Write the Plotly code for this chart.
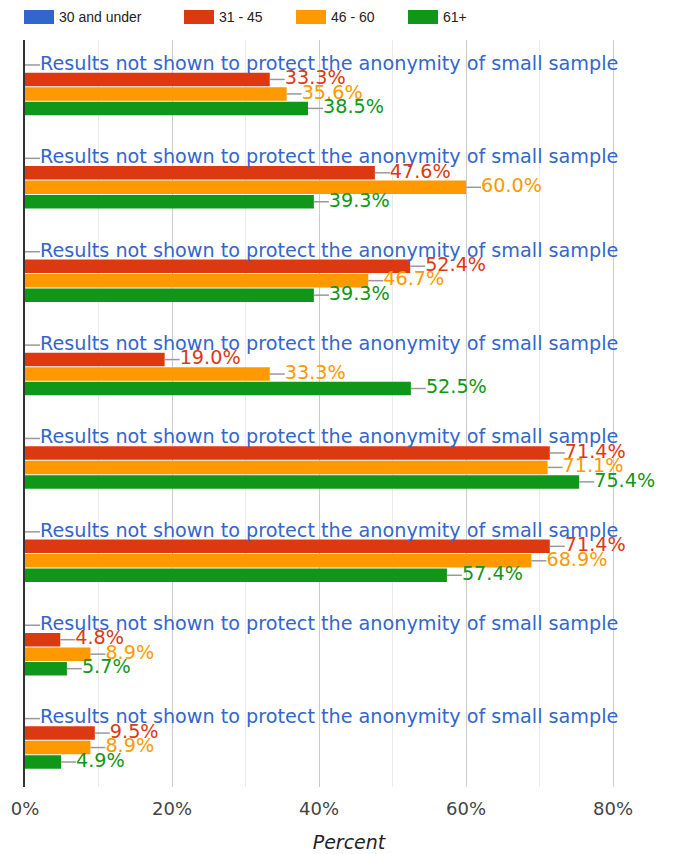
import plotly.graph_objects as go

categories = ["Item 1", "Item 2", "Item 3", "Item 4", "Item 5", "Item 6", "Item 7", "Item 8"]
series_names = ["30 and under", "31 - 45", "46 - 60", "61+"]
colors = ["#3366CC", "#DC3912", "#FF9900", "#109618"]
v_30_under = [0, 0, 0, 0, 0, 0, 0, 0]
v_31_45 = [0.333, 0.476, 0.524, 0.190, 0.714, 0.714, 0.048, 0.095]
v_46_60 = [0.356, 0.600, 0.467, 0.333, 0.711, 0.689, 0.089, 0.089]
v_61_plus = [0.385, 0.393, 0.393, 0.525, 0.754, 0.574, 0.057, 0.049]
suppressed_text = "Results not shown to protect the anonymity of small sample"
tick_vals = [0, 0.2, 0.4, 0.6, 0.8]
tick_text = ["0%", "20%", "40%", "60%", "80%"]

series_values = [v_30_under, v_31_45, v_46_60, v_61_plus]

W, H = 683, 854
ML, MR, MT, MB = 25, 10, 40, 67
PW, PH = W - ML - MR, H - MT - MB
XMAX = 0.8816
px_per_unit = PW / XMAX
LEADER = 15 / px_per_unit          # leader line length in data units

STEP = 0.155                       # slot per bar within a category
BW = 0.1445                        # bar thickness
GROUP_START = -2 * STEP

cat_pos = list(range(len(categories)))

fig = go.Figure()
for k, (name, vals, col) in enumerate(zip(series_names, series_values, colors)):
    off = GROUP_START + k * STEP + (STEP - BW) / 2
    centers = [p + off + BW / 2 for p in cat_pos]
    fig.add_trace(go.Bar(
        name=name, y=cat_pos, x=vals, orientation="h",
        offset=off, width=BW,
        marker=dict(color=col, line=dict(width=0)),
        hoverinfo="x+name", showlegend=False,
    ))
    # leader lines
    lx, ly = [], []
    for v, c in zip(vals, centers):
        lx += [v, v + LEADER, None]
        ly += [c, c, None]
    fig.add_trace(go.Scatter(
        x=lx, y=ly, mode="lines", line=dict(color="#999999", width=1.5),
        hoverinfo="skip", showlegend=False, cliponaxis=False,
    ))
    if name == "30 and under":
        texts = [suppressed_text for _ in vals]
    else:
        texts = [f"{v*100:.1f}%" for v in vals]
    fig.add_trace(go.Scatter(
        x=[v + LEADER for v in vals], y=centers, mode="text", text=texts,
        textposition="middle right", cliponaxis=False,
        textfont=dict(family="DejaVu Sans", size=19.2, color=col),
        hoverinfo="skip", showlegend=False,
    ))

# custom legend (wide rectangles like the reference)
legend_x = [24, 184, 296, 408]
for lx0, name, col in zip(legend_x, series_names, colors):
    fig.add_shape(type="rect", xref="paper", yref="paper",
                  x0=(lx0 - ML) / PW, x1=(lx0 + 30 - ML) / PW,
                  y0=1 + (MT - 24) / PH, y1=1 + (MT - 10) / PH,
                  fillcolor=col, line=dict(width=0), layer="above")
    fig.add_annotation(xref="paper", yref="paper",
                       x=(lx0 + 35 - ML) / PW, y=1 + (MT - 17) / PH,
                       text=name, showarrow=False, xanchor="left", yanchor="middle",
                       xshift=-2,
                       font=dict(family="Liberation Sans, Arial", size=14, color="#222222"))

fig.update_layout(
    width=W, height=H,
    barmode="overlay",
    plot_bgcolor="white", paper_bgcolor="white",
    margin=dict(l=ML, r=MR, t=MT, b=MB, autoexpand=False),
    showlegend=False,
    xaxis=dict(range=[0, XMAX], tickvals=tick_vals, ticktext=tick_text,
               showgrid=True, gridcolor="#cccccc", gridwidth=1,
               minor=dict(dtick=0.1, tick0=0, showgrid=True, gridcolor="#ebebeb", gridwidth=1),
               zeroline=False, showline=False, automargin=False,
               tickfont=dict(family="DejaVu Sans", size=18, color="#444444"),
               ticks="", ticklabelstandoff=9,
               title=dict(text="<i>Percent</i>", font=dict(family="DejaVu Sans", size=19, color="#222222"),
                          standoff=17)),
    yaxis=dict(range=[len(categories) - 0.5, -0.5], tickvals=cat_pos, ticktext=categories,
               showticklabels=False, showgrid=False, zeroline=False, automargin=False,
               showline=True, linecolor="#333333", linewidth=2, ticks=""),
    font=dict(family="DejaVu Sans"),
)

fig.write_html("out.html", post_script="document.body.style.margin='0';",
               config={"displayModeBar": False})
